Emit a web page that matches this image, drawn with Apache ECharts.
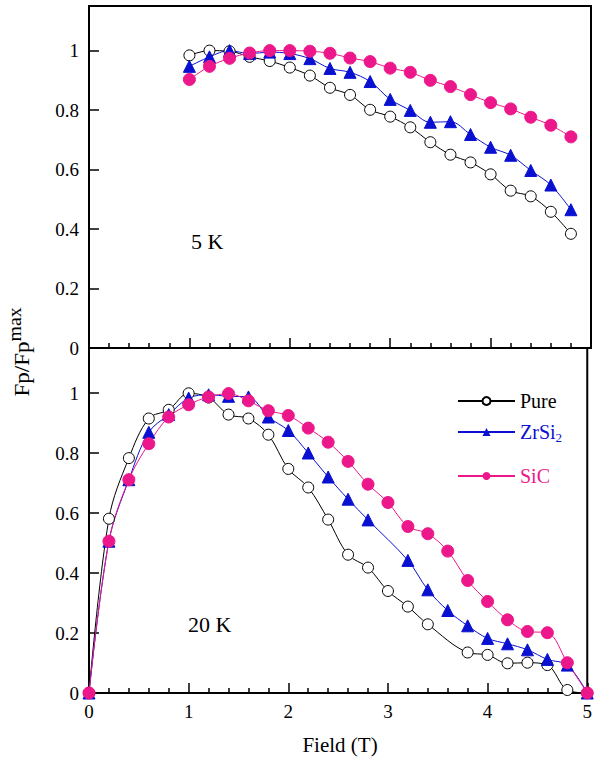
<!DOCTYPE html>
<html>
<head>
<meta charset="utf-8">
<script src="https://cdn.jsdelivr.net/npm/echarts@6/dist/echarts.min.js"></script>
<style>
html, body { margin: 0; padding: 0; background: #fff; }
#main { width: 595px; height: 759px; }
</style>
</head>
<body>
<div id="main"></div>
<script>
// 5 K panel: field values and normalised pinning force
var field5 = [1.0, 1.2, 1.4, 1.6, 1.8, 2.0, 2.2, 2.4, 2.6, 2.8, 3.0, 3.2, 3.4, 3.6, 3.8, 4.0, 4.2, 4.4, 4.6, 4.8];
var pure5 = [0.984, 1.0, 0.998, 0.979, 0.965, 0.943, 0.916, 0.875, 0.851, 0.801, 0.778, 0.742, 0.692, 0.650, 0.624, 0.584, 0.529, 0.510, 0.458, 0.384];
var zrsi5 = [0.947, 0.979, 1.0, 0.99, 0.995, 0.99, 0.973, 0.94, 0.927, 0.896, 0.836, 0.799, 0.759, 0.761, 0.718, 0.675, 0.648, 0.597, 0.548, 0.465];
var sic5 = [0.903, 0.947, 0.974, 0.992, 1.0, 1.0, 0.998, 0.991, 0.975, 0.963, 0.941, 0.927, 0.9, 0.879, 0.852, 0.825, 0.804, 0.776, 0.749, 0.710];

// 20 K panel
var fieldPure20 = [0, 0.2, 0.4, 0.6, 0.8, 1.0, 1.2, 1.4, 1.6, 1.8, 2.0, 2.2, 2.4, 2.6, 2.8, 3.0, 3.2, 3.4, 3.8, 4.0, 4.2, 4.4, 4.6, 4.8, 5.0];
var pure20 = [0, 0.581, 0.783, 0.915, 0.944, 0.999, 0.985, 0.928, 0.915, 0.861, 0.747, 0.685, 0.578, 0.461, 0.418, 0.340, 0.288, 0.229, 0.135, 0.127, 0.099, 0.101, 0.093, 0.010, 0];
var fieldZrsi20 = [0, 0.2, 0.4, 0.6, 0.8, 1.0, 1.2, 1.4, 1.6, 1.8, 2.0, 2.2, 2.4, 2.6, 2.8, 3.2, 3.4, 3.6, 3.8, 4.0, 4.2, 4.4, 4.6, 4.8, 5.0];
var zrsi20 = [0, 0.506, 0.711, 0.869, 0.928, 0.983, 0.994, 0.989, 0.987, 0.920, 0.875, 0.800, 0.720, 0.646, 0.577, 0.442, 0.344, 0.275, 0.224, 0.182, 0.164, 0.144, 0.112, 0.093, 0];
var fieldSic20 = [0, 0.2, 0.4, 0.6, 0.8, 1.0, 1.2, 1.4, 1.6, 1.8, 2.0, 2.2, 2.4, 2.6, 2.8, 3.0, 3.2, 3.4, 3.6, 3.8, 4.0, 4.2, 4.4, 4.6, 4.8, 5.0];
var sic20 = [0, 0.506, 0.711, 0.831, 0.920, 0.961, 0.987, 0.998, 0.974, 0.941, 0.925, 0.883, 0.836, 0.772, 0.696, 0.635, 0.555, 0.531, 0.473, 0.375, 0.305, 0.244, 0.205, 0.201, 0.101, 0];

var xTicks = [0, 1, 2, 3, 4, 5];
var yTicks = [0, 0.2, 0.4, 0.6, 0.8, 1];

var font = 'Liberation Serif';
var pink = '#ec178a';
var blue = '#0a10d0';

function pairs(xs, ys) {
	var out = [];
	for (var i = 0; i < xs.length; i++) out.push([xs[i], ys[i]]);
	return out;
}

function makeSeries(name, data, idx) {
	var s = {
		name: name,
		type: 'line',
		xAxisIndex: idx,
		yAxisIndex: idx,
		data: data,
		smooth: 0.35,
		showSymbol: true,
		lineStyle: { width: 1 },
		z: 3
	};
	if (name === 'Pure') {
		s.symbol = 'circle';
		s.symbolSize = 11;
		s.itemStyle = { color: '#fff', borderColor: '#000', borderWidth: 1 };
		s.lineStyle.color = '#000';
	} else if (name === 'ZrSi2') {
		s.symbol = 'triangle';
		s.symbolSize = 12;
		s.itemStyle = { color: blue, borderColor: blue };
		s.lineStyle.color = blue;
	} else {
		s.symbol = 'circle';
		s.symbolSize = 12;
		s.itemStyle = { color: pink, borderColor: pink };
		s.lineStyle.color = pink;
	}
	return s;
}

function xAxisCfg(idx, labels) {
	return {
		type: 'value',
		gridIndex: idx,
		min: 0,
		max: 5,
		interval: 1,
		axisLine: { show: true, onZero: false, lineStyle: { color: '#000', width: 2 } },
		axisTick: { show: true, inside: true, length: 10, lineStyle: { color: '#000', width: 1.5 } },
		minorTick: { show: true, splitNumber: 5, length: 5, lineStyle: { color: '#000', width: 1.5 } },
		splitLine: { show: false },
		axisLabel: {
			show: labels,
			margin: 9,
			fontFamily: font,
			fontSize: 19,
			color: '#000',
			formatter: function (v) { return xTicks.indexOf(v) >= 0 ? String(v) : ''; }
		}
	};
}

function yAxisCfg(idx) {
	return {
		type: 'value',
		gridIndex: idx,
		min: 0,
		max: 1.15,
		interval: 0.2,
		axisLine: { show: true, lineStyle: { color: '#000', width: 2 } },
		axisTick: { show: true, inside: true, length: 10, lineStyle: { color: '#000', width: 1.5 } },
		splitLine: { show: false },
		axisLabel: {
			margin: 10,
			fontFamily: font,
			fontSize: 19,
			color: '#000',
			showMaxLabel: false,
			formatter: function (v) {
				for (var i = 0; i < yTicks.length; i++) {
					if (Math.abs(yTicks[i] - v) < 1e-6) return String(yTicks[i]);
				}
				return '';
			}
		}
	};
}

function legendCfg(name, top, color) {
	return {
		data: [name],
		left: 457,
		top: top,
		orient: 'vertical',
		padding: 0,
		itemWidth: 57,
		itemHeight: 10,
		selectedMode: false,
		lineStyle: { width: 2 },
		textStyle: {
			fontFamily: font,
			fontSize: 20,
			color: color,
			rich: {
				m: { fontFamily: font, fontSize: 20, color: color },
				s: { fontFamily: font, fontSize: 13, color: color, padding: [10, 0, 0, 0] }
			}
		},
		formatter: function (n) { return n === 'ZrSi2' ? '{m|ZrSi}{s|2}' : n; }
	};
}

var myChart = echarts.init(document.getElementById('main'), null, { renderer: 'svg' });

var option = {
	animation: false,
	backgroundColor: '#fff',
	grid: [
		{ left: 89, right: 4, top: 6, height: 342, show: true, borderColor: '#000', borderWidth: 2, backgroundColor: 'transparent' },
		{ left: 89, right: 4, top: 348, height: 345, show: true, borderColor: '#000', borderWidth: 2, backgroundColor: 'transparent' }
	],
	xAxis: [xAxisCfg(0, false), xAxisCfg(1, true)],
	yAxis: [yAxisCfg(0), yAxisCfg(1)],
	legend: [
		legendCfg('Pure', 391, '#000'),
		legendCfg('ZrSi2', 422, blue),
		legendCfg('SiC', 466, pink)
	],
	graphic: [
		{
			type: 'text',
			x: 22,
			y: 352,
			rotation: Math.PI / 2,
			scaleX: 1.1,
			style: {
				text: '{a|Fp/Fp}{b|max}',
				align: 'center',
				verticalAlign: 'middle',
				rich: {
					a: { fontFamily: font, fontSize: 21, fill: '#000' },
					b: { fontFamily: font, fontSize: 18, fill: '#000', padding: [0, 0, 14, 0] }
				}
			}
		},
		{
			type: 'text',
			x: 340,
			y: 745,
			style: { text: 'Field (T)', fontFamily: font, fontSize: 21, fill: '#000', align: 'center', verticalAlign: 'middle' }
		},
		{
			type: 'text',
			left: 191,
			top: 230,
			style: { text: '5 K', fontFamily: font, fontSize: 22, fill: '#000' }
		},
		{
			type: 'text',
			left: 188,
			top: 613,
			style: { text: '20 K', fontFamily: font, fontSize: 22, fill: '#000' }
		}
	],
	series: [
		makeSeries('Pure', pairs(field5, pure5), 0),
		makeSeries('ZrSi2', pairs(field5, zrsi5), 0),
		makeSeries('SiC', pairs(field5, sic5), 0),
		makeSeries('Pure', pairs(fieldPure20, pure20), 1),
		makeSeries('ZrSi2', pairs(fieldZrsi20, zrsi20), 1),
		makeSeries('SiC', pairs(fieldSic20, sic20), 1)
	]
};

myChart.setOption(option);
</script>
</body>
</html>
